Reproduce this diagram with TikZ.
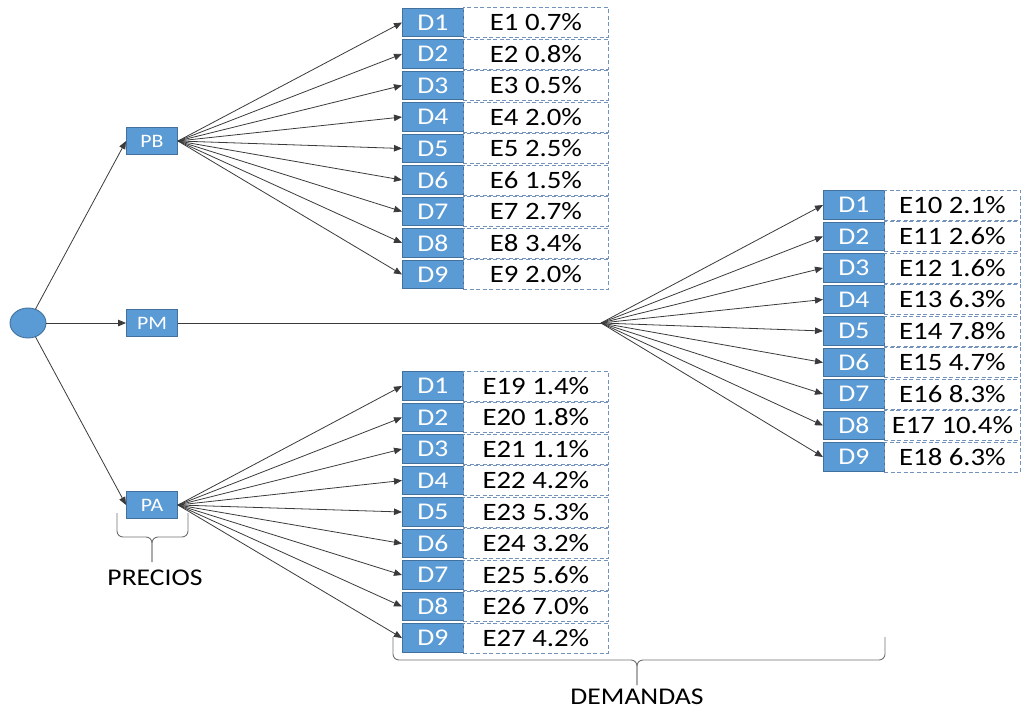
\documentclass[tikz,border=0pt]{standalone}
\usepackage{fontspec}
\setmainfont{Carlito}[FakeStretch=1.15]
\usetikzlibrary{arrows.meta,shapes.geometric}
\definecolor{boxblue}{HTML}{5B9BD5}
\definecolor{boxedge}{HTML}{41719C}
\definecolor{dashedge}{HTML}{7393BC}
\definecolor{wire}{HTML}{3A3A3A}
\definecolor{bracegray}{HTML}{707070}

\begin{document}
\begin{tikzpicture}[x=1pt,y=-1pt,
  dbox/.style={draw=boxedge, fill=boxblue, line width=0.9pt, minimum width=61pt,
    minimum height=28.5pt, inner sep=0pt, text=white, anchor=west,
    font=\fontsize{24}{24}\selectfont},
  ebox/.style={draw=dashedge, line width=0.9pt, dash pattern=on 4pt off 2.5pt,
    minimum height=30pt, inner sep=0pt, anchor=west,
    font=\fontsize{25}{25}\selectfont},
  pbox/.style={draw=boxedge, fill=boxblue, line width=0.9pt, minimum width=51pt,
    minimum height=27pt, inner sep=0pt, text=white,
    font=\fontsize{19}{19}\selectfont},
  conn/.style={draw=wire, line width=0.8pt, -{Triangle[length=8pt,width=6.5pt]}},
  plain/.style={draw=wire, line width=0.8pt},
  bracket/.style={draw=bracegray, line width=0.9pt, rounded corners=6pt},
  caption/.style={font=\fontsize{24}{24}\selectfont}
]
\useasboundingbox (0,0) rectangle (1024,711);

% root and price levels
\node[ellipse, draw=boxedge, fill=boxblue, line width=0.9pt,
  minimum width=36pt, minimum height=30pt, inner sep=0pt] (root) at (28,323) {};
\node[pbox] (PB) at (152,141) {PB};
\node[pbox] (PM) at (152,323) {PM};
\node[pbox] (PA) at (152,505) {PA};

\draw[conn] (root) -- (PB.west);
\draw[conn] (root.east) -- (PM.west);
\draw[conn] (root) -- (PA.west);

% demand branches under PB
\foreach \i/\e in {1/E1 0.7\%, 2/E2 0.8\%, 3/E3 0.5\%, 4/E4 2.0\%, 5/E5 2.5\%,
                   6/E6 1.5\%, 7/E7 2.7\%, 8/E8 3.4\%, 9/E9 2.0\%} {
  \node[dbox] (B\i) at (402,{22.5+31.5*(\i-1)}) {D\i};
  \node[ebox, minimum width=145pt] (BE\i) at (463,{22.5+31.5*(\i-1)}) {\e};
  \draw[conn] (PB.east) -- (B\i.west);
}

% demand branches under PM
\coordinate (fan) at (601,323);
\draw[plain] (PM.east) -- (fan);
\foreach \i/\e in {1/E10 2.1\%, 2/E11 2.6\%, 3/E12 1.6\%, 4/E13 6.3\%, 5/E14 7.8\%,
                   6/E15 4.7\%, 7/E16 8.3\%, 8/E17 10.4\%, 9/E18 6.3\%} {
  \node[dbox] (M\i) at (823,{205+31.5*(\i-1)}) {D\i};
  \node[ebox, minimum width=136pt] (ME\i) at (884,{205+31.5*(\i-1)}) {\e};
  \draw[conn] (fan) -- (M\i.west);
}

% demand branches under PA
\foreach \i/\e in {1/E19 1.4\%, 2/E20 1.8\%, 3/E21 1.1\%, 4/E22 4.2\%, 5/E23 5.3\%,
                   6/E24 3.2\%, 7/E25 5.6\%, 8/E26 7.0\%, 9/E27 4.2\%} {
  \node[dbox] (A\i) at (402,{386+31.5*(\i-1)}) {D\i};
  \node[ebox, minimum width=145pt] (AE\i) at (463,{386+31.5*(\i-1)}) {\e};
  \draw[conn] (PA.east) -- (A\i.west);
}

% braces and their captions
\draw[bracket] (117,513) -- (117,537) -- (152,537) -- (152,562);
\draw[bracket] (188,513) -- (188,537) -- (152,537) -- (152,562);
\node[caption] (precios) at (155,578) {PRECIOS};

\draw[bracket] (393,637) -- (393,660) -- (637,660) -- (637,685);
\draw[bracket] (885,637) -- (885,660) -- (637,660) -- (637,685);
\node[caption] (demandas) at (637,697) {DEMANDAS};
\end{tikzpicture}
\end{document}
